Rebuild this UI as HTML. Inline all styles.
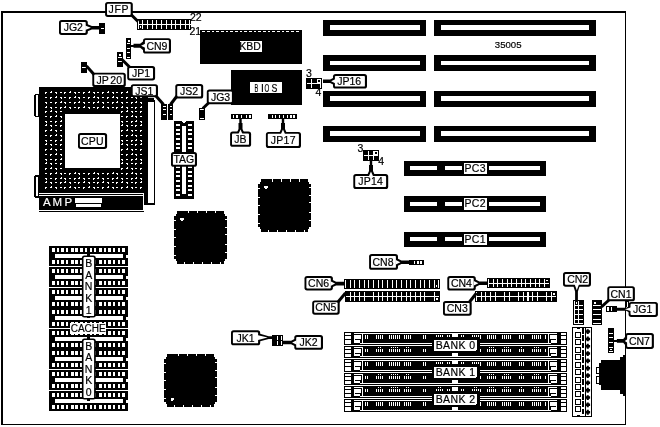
<!DOCTYPE html>
<html><head><meta charset="utf-8"><title>35005 motherboard layout</title>
<style>
html,body{margin:0;padding:0;background:#fff;}
svg{display:block;will-change:transform;font-family:"Liberation Sans",sans-serif;font-size:10.5px;text-anchor:middle;shape-rendering:crispEdges;}
.g{shape-rendering:geometricPrecision;}
text{stroke:#000;stroke-width:.18px;}
text[fill="#fff"]{stroke:#fff;}
</style></head><body>
<svg width="660" height="427" viewBox="0 0 660 427">
<rect width="660" height="427" fill="#fff"/>
<path fill="#000" d="M1 11h625v2h-625zM1 11h2v414h-2zM625 11h1v414h-1zM1 424h625v1h-625zM323 20h103v16h-103z"/>
<path fill="#fff" d="M330 25h90v5h-90z"/>
<path fill="#000" d="M434 20h162v16h-162z"/>
<path fill="#fff" d="M441 25h148v5h-148z"/>
<path fill="#000" d="M323 55h103v16h-103z"/>
<path fill="#fff" d="M330 61h90v4h-90z"/>
<path fill="#000" d="M434 55h162v16h-162z"/>
<path fill="#fff" d="M441 61h148v4h-148z"/>
<path fill="#000" d="M323 91h103v16h-103z"/>
<path fill="#fff" d="M330 96h90v5h-90z"/>
<path fill="#000" d="M434 91h162v16h-162z"/>
<path fill="#fff" d="M441 96h148v5h-148z"/>
<path fill="#000" d="M323 126h103v16h-103z"/>
<path fill="#fff" d="M330 131h90v5h-90z"/>
<path fill="#000" d="M434 126h162v16h-162z"/>
<path fill="#fff" d="M441 131h148v5h-148z"/>
<path fill="#000" d="M404 161h142v15h-142z"/>
<path fill="#fff" d="M410 166h27v4h-27zM445 166h17v4h-17zM489 166h51v4h-51zM464 163h23v11h-23z"/>
<text x="475.2" y="172.1" letter-spacing="0.3" >PC3</text>
<path fill="#000" d="M404 196h142v16h-142z"/>
<path fill="#fff" d="M410 202h27v4h-27zM445 202h17v4h-17zM489 202h51v4h-51zM464 198h23v12h-23z"/>
<text x="475.2" y="207.1" letter-spacing="0.3" >PC2</text>
<path fill="#000" d="M404 232h142v15h-142z"/>
<path fill="#fff" d="M410 237h27v4h-27zM445 237h17v4h-17zM489 237h51v4h-51zM464 234h23v11h-23z"/>
<text x="475.2" y="243.1" letter-spacing="0.3" >PC1</text>
<path fill="#000" d="M200 30h102v34h-102z"/>
<path fill="#fff" d="M202.3 31h2.8v1h-2.8zM206.97 31h2.8v1h-2.8zM211.64 31h2.8v1h-2.8zM216.31 31h2.8v1h-2.8zM220.98 31h2.8v1h-2.8zM225.65 31h2.8v1h-2.8zM230.32 31h2.8v1h-2.8zM234.99 31h2.8v1h-2.8zM239.66 31h2.8v1h-2.8zM244.33 31h2.8v1h-2.8zM249 31h2.8v1h-2.8zM253.67 31h2.8v1h-2.8zM258.34 31h2.8v1h-2.8zM263.01 31h2.8v1h-2.8zM267.68 31h2.8v1h-2.8zM272.35 31h2.8v1h-2.8zM277.02 31h2.8v1h-2.8zM281.69 31h2.8v1h-2.8zM286.36 31h2.8v1h-2.8zM291.03 31h2.8v1h-2.8zM295.7 31h2.8v1h-2.8zM240 41h22v11h-22z"/>
<text x="250.1" y="50" >KBD</text>
<path fill="#000" d="M231 70h71v34.5h-71z"/>
<path fill="#fff" d="M250 82h32.2v10.9h-32.2z"/>
<text transform="translate(256.3,91.6) scale(0.55,1)" font-size="10.3">B</text>
<text transform="translate(262.5,91.6) scale(1,1)" font-size="10.3">I</text>
<text transform="translate(266.9,91.6) scale(0.6,1)" font-size="10.3">O</text>
<text transform="translate(274.5,91.6) scale(0.85,1)" font-size="10.3">S</text>
<path fill="#000" d="M261 179h47v3h-47zM260 182h49v2h-49zM258 184h53v43h-53zM260 227h49v2h-49zM261 229h47v3h-47z"/>
<path fill="#fff" d="M272 179h1v3h-1zM281 179h1v3h-1zM290 179h1v3h-1zM299 179h1v3h-1zM267.5 230h1v2h-1zM276.7 230h1v2h-1zM286 230h1v2h-1zM295 230h1v2h-1zM304 230h1v2h-1zM258 188h2v1h-2zM258 196.7h2v1h-2zM258 205.4h2v1h-2zM258 214.1h2v1h-2zM258 222.8h2v1h-2zM309 187h2v1h-2zM309 194.5h2v1h-2zM309 202h2v1h-2zM309 211.5h2v1h-2zM309 219.7h2v1h-2zM264 186h4v2h-4zM265 188h2v1h-2z"/>
<path fill="#000" d="M177 211h47v3h-47zM176 214h49v2h-49zM174 216h53v43h-53zM176 259h49v2h-49zM177 261h47v3h-47z"/>
<path fill="#fff" d="M188 211h1v2h-1zM197 211h1v2h-1zM206 211h1v2h-1zM215 211h1v2h-1zM183.5 262h1v2h-1zM192.7 262h1v2h-1zM202 262h1v2h-1zM211 262h1v2h-1zM220 262h1v2h-1zM174 220h2v1h-2zM174 228.7h2v1h-2zM174 237.4h2v1h-2zM174 246.1h2v1h-2zM174 254.8h2v1h-2zM225 219h2v1h-2zM225 226.5h2v1h-2zM225 234h2v1h-2zM225 243.5h2v1h-2zM225 251.7h2v1h-2zM180 218h4v2h-4zM181 220h2v1h-2z"/>
<path fill="#000" d="M167 354h47v3h-47zM166 357h49v2h-49zM164 359h53v43h-53zM166 402h49v2h-49zM167 404h47v3h-47z"/>
<path fill="#fff" d="M178 354h1v2h-1zM187 354h1v2h-1zM196 354h1v2h-1zM205 354h1v2h-1zM173.5 405h1v2h-1zM182.7 405h1v2h-1zM192 405h1v2h-1zM201 405h1v2h-1zM210 405h1v2h-1zM164 363h2v1h-2zM164 371.7h2v1h-2zM164 380.4h2v1h-2zM164 389.1h2v1h-2zM164 397.8h2v1h-2zM215 362h2v1h-2zM215 369.5h2v1h-2zM215 377h2v1h-2zM215 386.5h2v1h-2zM215 394.7h2v1h-2zM171 398h3v2h-3zM171 400h2v1h-2z"/>
<path fill="#000" d="M174 121h20v78h-20z"/>
<polygon points="181.7,121 186.3,121 184,123.6" fill="#fff" />
<path fill="#fff" d="M182 126h4v68h-4zM176.2 124h4v2h-4zM188 124h4v2h-4zM176.2 128.67h4v2h-4zM188 128.67h4v2h-4zM176.2 133.34h4v2h-4zM188 133.34h4v2h-4zM176.2 138.01h4v2h-4zM188 138.01h4v2h-4zM176.2 142.68h4v2h-4zM188 142.68h4v2h-4zM176.2 147.35h4v2h-4zM188 147.35h4v2h-4zM176.2 152.02h4v2h-4zM188 152.02h4v2h-4zM176.2 156.69h4v2h-4zM188 156.69h4v2h-4zM176.2 161.36h4v2h-4zM188 161.36h4v2h-4zM176.2 166.03h4v2h-4zM188 166.03h4v2h-4zM176.2 170.7h4v2h-4zM188 170.7h4v2h-4zM176.2 175.37h4v2h-4zM188 175.37h4v2h-4zM176.2 180.04h4v2h-4zM188 180.04h4v2h-4zM176.2 184.71h4v2h-4zM188 184.71h4v2h-4zM176.2 189.38h4v2h-4zM188 189.38h4v2h-4zM176.2 194.05h4v2h-4zM188 194.05h4v2h-4z"/>
<path fill="#000" d="M49 246h79v20h-79z"/>
<path fill="#fff" d="M52 248h2.8v4h-2.8zM52 260h2.8v4h-2.8zM56.69 248h2.2v4h-2.2zM56.69 260h2.2v4h-2.2zM61.38 248h2.8v4h-2.8zM61.38 260h2.8v4h-2.8zM66.07 248h2.2v4h-2.2zM66.07 260h2.2v4h-2.2zM70.76 248h2.8v4h-2.8zM70.76 260h2.8v4h-2.8zM75.45 248h2.2v4h-2.2zM75.45 260h2.2v4h-2.2zM80.14 248h2.8v4h-2.8zM80.14 260h2.8v4h-2.8zM84.83 248h2.2v4h-2.2zM84.83 260h2.2v4h-2.2zM89.52 248h2.8v4h-2.8zM89.52 260h2.8v4h-2.8zM94.21 248h2.2v4h-2.2zM94.21 260h2.2v4h-2.2zM98.9 248h2.8v4h-2.8zM98.9 260h2.8v4h-2.8zM103.59 248h2.2v4h-2.2zM103.59 260h2.2v4h-2.2zM108.28 248h2.8v4h-2.8zM108.28 260h2.8v4h-2.8zM112.97 248h2.2v4h-2.2zM112.97 260h2.2v4h-2.2zM117.66 248h2.8v4h-2.8zM117.66 260h2.8v4h-2.8zM122.35 248h2.2v4h-2.2zM122.35 260h2.2v4h-2.2zM55 254.2h67.8v3.6h-67.8zM126 255.3h2v2.3h-2z"/>
<path fill="#000" d="M87 254.2h3v1.8h-3zM49 267h79v20h-79z"/>
<path fill="#fff" d="M52 269h2.8v4h-2.8zM52 281h2.8v4h-2.8zM56.69 269h2.2v4h-2.2zM56.69 281h2.2v4h-2.2zM61.38 269h2.8v4h-2.8zM61.38 281h2.8v4h-2.8zM66.07 269h2.2v4h-2.2zM66.07 281h2.2v4h-2.2zM70.76 269h2.8v4h-2.8zM70.76 281h2.8v4h-2.8zM75.45 269h2.2v4h-2.2zM75.45 281h2.2v4h-2.2zM80.14 269h2.8v4h-2.8zM80.14 281h2.8v4h-2.8zM84.83 269h2.2v4h-2.2zM84.83 281h2.2v4h-2.2zM89.52 269h2.8v4h-2.8zM89.52 281h2.8v4h-2.8zM94.21 269h2.2v4h-2.2zM94.21 281h2.2v4h-2.2zM98.9 269h2.8v4h-2.8zM98.9 281h2.8v4h-2.8zM103.59 269h2.2v4h-2.2zM103.59 281h2.2v4h-2.2zM108.28 269h2.8v4h-2.8zM108.28 281h2.8v4h-2.8zM112.97 269h2.2v4h-2.2zM112.97 281h2.2v4h-2.2zM117.66 269h2.8v4h-2.8zM117.66 281h2.8v4h-2.8zM122.35 269h2.2v4h-2.2zM122.35 281h2.2v4h-2.2zM55 275.2h67.8v3.6h-67.8zM126 276.3h2v2.3h-2z"/>
<path fill="#000" d="M87 275.2h3v1.8h-3zM49 288h79v20h-79z"/>
<path fill="#fff" d="M52 290h2.8v4h-2.8zM52 302h2.8v4h-2.8zM56.69 290h2.2v4h-2.2zM56.69 302h2.2v4h-2.2zM61.38 290h2.8v4h-2.8zM61.38 302h2.8v4h-2.8zM66.07 290h2.2v4h-2.2zM66.07 302h2.2v4h-2.2zM70.76 290h2.8v4h-2.8zM70.76 302h2.8v4h-2.8zM75.45 290h2.2v4h-2.2zM75.45 302h2.2v4h-2.2zM80.14 290h2.8v4h-2.8zM80.14 302h2.8v4h-2.8zM84.83 290h2.2v4h-2.2zM84.83 302h2.2v4h-2.2zM89.52 290h2.8v4h-2.8zM89.52 302h2.8v4h-2.8zM94.21 290h2.2v4h-2.2zM94.21 302h2.2v4h-2.2zM98.9 290h2.8v4h-2.8zM98.9 302h2.8v4h-2.8zM103.59 290h2.2v4h-2.2zM103.59 302h2.2v4h-2.2zM108.28 290h2.8v4h-2.8zM108.28 302h2.8v4h-2.8zM112.97 290h2.2v4h-2.2zM112.97 302h2.2v4h-2.2zM117.66 290h2.8v4h-2.8zM117.66 302h2.8v4h-2.8zM122.35 290h2.2v4h-2.2zM122.35 302h2.2v4h-2.2zM55 296.2h67.8v3.6h-67.8zM126 297.3h2v2.3h-2z"/>
<path fill="#000" d="M87 296.2h3v1.8h-3zM49 308h79v20h-79z"/>
<path fill="#fff" d="M52 310h2.8v4h-2.8zM52 322h2.8v4h-2.8zM56.69 310h2.2v4h-2.2zM56.69 322h2.2v4h-2.2zM61.38 310h2.8v4h-2.8zM61.38 322h2.8v4h-2.8zM66.07 310h2.2v4h-2.2zM66.07 322h2.2v4h-2.2zM70.76 310h2.8v4h-2.8zM70.76 322h2.8v4h-2.8zM75.45 310h2.2v4h-2.2zM75.45 322h2.2v4h-2.2zM80.14 310h2.8v4h-2.8zM80.14 322h2.8v4h-2.8zM84.83 310h2.2v4h-2.2zM84.83 322h2.2v4h-2.2zM89.52 310h2.8v4h-2.8zM89.52 322h2.8v4h-2.8zM94.21 310h2.2v4h-2.2zM94.21 322h2.2v4h-2.2zM98.9 310h2.8v4h-2.8zM98.9 322h2.8v4h-2.8zM103.59 310h2.2v4h-2.2zM103.59 322h2.2v4h-2.2zM108.28 310h2.8v4h-2.8zM108.28 322h2.8v4h-2.8zM112.97 310h2.2v4h-2.2zM112.97 322h2.2v4h-2.2zM117.66 310h2.8v4h-2.8zM117.66 322h2.8v4h-2.8zM122.35 310h2.2v4h-2.2zM122.35 322h2.2v4h-2.2zM55 316.2h67.8v3.6h-67.8zM126 317.3h2v2.3h-2z"/>
<path fill="#000" d="M87 316.2h3v1.8h-3zM49 329h79v20h-79z"/>
<path fill="#fff" d="M52 331h2.8v4h-2.8zM52 343h2.8v4h-2.8zM56.69 331h2.2v4h-2.2zM56.69 343h2.2v4h-2.2zM61.38 331h2.8v4h-2.8zM61.38 343h2.8v4h-2.8zM66.07 331h2.2v4h-2.2zM66.07 343h2.2v4h-2.2zM70.76 331h2.8v4h-2.8zM70.76 343h2.8v4h-2.8zM75.45 331h2.2v4h-2.2zM75.45 343h2.2v4h-2.2zM80.14 331h2.8v4h-2.8zM80.14 343h2.8v4h-2.8zM84.83 331h2.2v4h-2.2zM84.83 343h2.2v4h-2.2zM89.52 331h2.8v4h-2.8zM89.52 343h2.8v4h-2.8zM94.21 331h2.2v4h-2.2zM94.21 343h2.2v4h-2.2zM98.9 331h2.8v4h-2.8zM98.9 343h2.8v4h-2.8zM103.59 331h2.2v4h-2.2zM103.59 343h2.2v4h-2.2zM108.28 331h2.8v4h-2.8zM108.28 343h2.8v4h-2.8zM112.97 331h2.2v4h-2.2zM112.97 343h2.2v4h-2.2zM117.66 331h2.8v4h-2.8zM117.66 343h2.8v4h-2.8zM122.35 331h2.2v4h-2.2zM122.35 343h2.2v4h-2.2zM55 337.2h67.8v3.6h-67.8zM126 338.3h2v2.3h-2z"/>
<path fill="#000" d="M87 337.2h3v1.8h-3zM49 349h79v20h-79z"/>
<path fill="#fff" d="M52 351h2.8v4h-2.8zM52 363h2.8v4h-2.8zM56.69 351h2.2v4h-2.2zM56.69 363h2.2v4h-2.2zM61.38 351h2.8v4h-2.8zM61.38 363h2.8v4h-2.8zM66.07 351h2.2v4h-2.2zM66.07 363h2.2v4h-2.2zM70.76 351h2.8v4h-2.8zM70.76 363h2.8v4h-2.8zM75.45 351h2.2v4h-2.2zM75.45 363h2.2v4h-2.2zM80.14 351h2.8v4h-2.8zM80.14 363h2.8v4h-2.8zM84.83 351h2.2v4h-2.2zM84.83 363h2.2v4h-2.2zM89.52 351h2.8v4h-2.8zM89.52 363h2.8v4h-2.8zM94.21 351h2.2v4h-2.2zM94.21 363h2.2v4h-2.2zM98.9 351h2.8v4h-2.8zM98.9 363h2.8v4h-2.8zM103.59 351h2.2v4h-2.2zM103.59 363h2.2v4h-2.2zM108.28 351h2.8v4h-2.8zM108.28 363h2.8v4h-2.8zM112.97 351h2.2v4h-2.2zM112.97 363h2.2v4h-2.2zM117.66 351h2.8v4h-2.8zM117.66 363h2.8v4h-2.8zM122.35 351h2.2v4h-2.2zM122.35 363h2.2v4h-2.2zM55 357.2h67.8v3.6h-67.8zM126 358.3h2v2.3h-2z"/>
<path fill="#000" d="M87 357.2h3v1.8h-3zM49 370h79v20h-79z"/>
<path fill="#fff" d="M52 372h2.8v4h-2.8zM52 384h2.8v4h-2.8zM56.69 372h2.2v4h-2.2zM56.69 384h2.2v4h-2.2zM61.38 372h2.8v4h-2.8zM61.38 384h2.8v4h-2.8zM66.07 372h2.2v4h-2.2zM66.07 384h2.2v4h-2.2zM70.76 372h2.8v4h-2.8zM70.76 384h2.8v4h-2.8zM75.45 372h2.2v4h-2.2zM75.45 384h2.2v4h-2.2zM80.14 372h2.8v4h-2.8zM80.14 384h2.8v4h-2.8zM84.83 372h2.2v4h-2.2zM84.83 384h2.2v4h-2.2zM89.52 372h2.8v4h-2.8zM89.52 384h2.8v4h-2.8zM94.21 372h2.2v4h-2.2zM94.21 384h2.2v4h-2.2zM98.9 372h2.8v4h-2.8zM98.9 384h2.8v4h-2.8zM103.59 372h2.2v4h-2.2zM103.59 384h2.2v4h-2.2zM108.28 372h2.8v4h-2.8zM108.28 384h2.8v4h-2.8zM112.97 372h2.2v4h-2.2zM112.97 384h2.2v4h-2.2zM117.66 372h2.8v4h-2.8zM117.66 384h2.8v4h-2.8zM122.35 372h2.2v4h-2.2zM122.35 384h2.2v4h-2.2zM55 378.2h67.8v3.6h-67.8zM126 379.3h2v2.3h-2z"/>
<path fill="#000" d="M87 378.2h3v1.8h-3zM49 391h79v19.6h-79z"/>
<path fill="#fff" d="M52 393h2.8v4h-2.8zM52 405h2.8v4h-2.8zM56.69 393h2.2v4h-2.2zM56.69 405h2.2v4h-2.2zM61.38 393h2.8v4h-2.8zM61.38 405h2.8v4h-2.8zM66.07 393h2.2v4h-2.2zM66.07 405h2.2v4h-2.2zM70.76 393h2.8v4h-2.8zM70.76 405h2.8v4h-2.8zM75.45 393h2.2v4h-2.2zM75.45 405h2.2v4h-2.2zM80.14 393h2.8v4h-2.8zM80.14 405h2.8v4h-2.8zM84.83 393h2.2v4h-2.2zM84.83 405h2.2v4h-2.2zM89.52 393h2.8v4h-2.8zM89.52 405h2.8v4h-2.8zM94.21 393h2.2v4h-2.2zM94.21 405h2.2v4h-2.2zM98.9 393h2.8v4h-2.8zM98.9 405h2.8v4h-2.8zM103.59 393h2.2v4h-2.2zM103.59 405h2.2v4h-2.2zM108.28 393h2.8v4h-2.8zM108.28 405h2.8v4h-2.8zM112.97 393h2.2v4h-2.2zM112.97 405h2.2v4h-2.2zM117.66 393h2.8v4h-2.8zM117.66 405h2.8v4h-2.8zM122.35 393h2.2v4h-2.2zM122.35 405h2.2v4h-2.2zM55 399.2h67.8v3.6h-67.8zM126 400.3h2v2.3h-2z"/>
<path fill="#000" d="M87 399.2h3v1.8h-3zM39 87h109v106h-109z"/>
<path fill="#fff" d="M45 92h2v1h-2zM45 93h1v1h-1zM50 92h2v1h-2zM51 91h1v1h-1zM55 92h2v1h-2zM56 93h1v1h-1zM60 92h2v1h-2zM64 92h2v1h-2zM64 93h1v1h-1zM69 92h2v1h-2zM70 91h1v1h-1zM74 92h2v1h-2zM75 93h1v1h-1zM78 92h2v1h-2zM83 92h2v1h-2zM83 93h1v1h-1zM88 92h2v1h-2zM89 91h1v1h-1zM93 92h2v1h-2zM94 93h1v1h-1zM97 92h2v1h-2zM102 92h2v1h-2zM102 93h1v1h-1zM107 92h2v1h-2zM108 91h1v1h-1zM112 92h2v1h-2zM113 93h1v1h-1zM116 92h2v1h-2zM121 92h2v1h-2zM121 93h1v1h-1zM126 92h2v1h-2zM127 91h1v1h-1zM131 92h2v1h-2zM132 93h1v1h-1zM135 92h2v1h-2zM140 92h2v1h-2zM140 93h1v1h-1zM45 97h2v1h-2zM50 97h2v1h-2zM50 98h1v1h-1zM55 97h2v1h-2zM56 96h1v1h-1zM60 97h2v1h-2zM61 98h1v1h-1zM64 97h2v1h-2zM69 97h2v1h-2zM69 98h1v1h-1zM74 97h2v1h-2zM75 96h1v1h-1zM78 97h2v1h-2zM79 98h1v1h-1zM83 97h2v1h-2zM88 97h2v1h-2zM88 98h1v1h-1zM93 97h2v1h-2zM94 96h1v1h-1zM97 97h2v1h-2zM98 98h1v1h-1zM102 97h2v1h-2zM107 97h2v1h-2zM107 98h1v1h-1zM112 97h2v1h-2zM113 96h1v1h-1zM116 97h2v1h-2zM117 98h1v1h-1zM121 97h2v1h-2zM126 97h2v1h-2zM126 98h1v1h-1zM131 97h2v1h-2zM132 96h1v1h-1zM135 97h2v1h-2zM136 98h1v1h-1zM140 97h2v1h-2zM45 102h2v1h-2zM46 103h1v1h-1zM50 102h2v1h-2zM55 102h2v1h-2zM55 103h1v1h-1zM60 102h2v1h-2zM61 101h1v1h-1zM64 102h2v1h-2zM65 103h1v1h-1zM69 102h2v1h-2zM74 102h2v1h-2zM74 103h1v1h-1zM78 102h2v1h-2zM79 101h1v1h-1zM83 102h2v1h-2zM84 103h1v1h-1zM88 102h2v1h-2zM93 102h2v1h-2zM93 103h1v1h-1zM97 102h2v1h-2zM98 101h1v1h-1zM102 102h2v1h-2zM103 103h1v1h-1zM107 102h2v1h-2zM112 102h2v1h-2zM112 103h1v1h-1zM116 102h2v1h-2zM117 101h1v1h-1zM121 102h2v1h-2zM122 103h1v1h-1zM126 102h2v1h-2zM131 102h2v1h-2zM131 103h1v1h-1zM135 102h2v1h-2zM136 101h1v1h-1zM140 102h2v1h-2zM141 103h1v1h-1zM45 107h2v1h-2zM46 106h1v1h-1zM50 107h2v1h-2zM51 108h1v1h-1zM55 107h2v1h-2zM60 107h2v1h-2zM60 108h1v1h-1zM64 107h2v1h-2zM65 106h1v1h-1zM69 107h2v1h-2zM70 108h1v1h-1zM74 107h2v1h-2zM78 107h2v1h-2zM78 108h1v1h-1zM83 107h2v1h-2zM84 106h1v1h-1zM88 107h2v1h-2zM89 108h1v1h-1zM93 107h2v1h-2zM97 107h2v1h-2zM97 108h1v1h-1zM102 107h2v1h-2zM103 106h1v1h-1zM107 107h2v1h-2zM108 108h1v1h-1zM112 107h2v1h-2zM116 107h2v1h-2zM116 108h1v1h-1zM121 107h2v1h-2zM122 106h1v1h-1zM126 107h2v1h-2zM127 108h1v1h-1zM131 107h2v1h-2zM135 107h2v1h-2zM135 108h1v1h-1zM140 107h2v1h-2zM141 106h1v1h-1zM45 111h2v1h-2zM45 112h1v1h-1zM50 111h2v1h-2zM51 110h1v1h-1zM55 111h2v1h-2zM56 112h1v1h-1zM60 111h2v1h-2zM121 111h2v1h-2zM121 112h1v1h-1zM126 111h2v1h-2zM127 110h1v1h-1zM131 111h2v1h-2zM132 112h1v1h-1zM135 111h2v1h-2zM140 111h2v1h-2zM140 112h1v1h-1zM45 116h2v1h-2zM50 116h2v1h-2zM50 117h1v1h-1zM55 116h2v1h-2zM56 115h1v1h-1zM60 116h2v1h-2zM61 117h1v1h-1zM121 116h2v1h-2zM126 116h2v1h-2zM126 117h1v1h-1zM131 116h2v1h-2zM132 115h1v1h-1zM135 116h2v1h-2zM136 117h1v1h-1zM140 116h2v1h-2zM45 121h2v1h-2zM46 122h1v1h-1zM50 121h2v1h-2zM55 121h2v1h-2zM55 122h1v1h-1zM60 121h2v1h-2zM61 120h1v1h-1zM121 121h2v1h-2zM122 122h1v1h-1zM126 121h2v1h-2zM131 121h2v1h-2zM131 122h1v1h-1zM135 121h2v1h-2zM136 120h1v1h-1zM140 121h2v1h-2zM141 122h1v1h-1zM45 125h2v1h-2zM46 124h1v1h-1zM50 125h2v1h-2zM51 126h1v1h-1zM55 125h2v1h-2zM60 125h2v1h-2zM60 126h1v1h-1zM121 125h2v1h-2zM122 124h1v1h-1zM126 125h2v1h-2zM127 126h1v1h-1zM131 125h2v1h-2zM135 125h2v1h-2zM135 126h1v1h-1zM140 125h2v1h-2zM141 124h1v1h-1zM45 130h2v1h-2zM45 131h1v1h-1zM50 130h2v1h-2zM51 129h1v1h-1zM55 130h2v1h-2zM56 131h1v1h-1zM60 130h2v1h-2zM121 130h2v1h-2zM121 131h1v1h-1zM126 130h2v1h-2zM127 129h1v1h-1zM131 130h2v1h-2zM132 131h1v1h-1zM135 130h2v1h-2zM140 130h2v1h-2zM140 131h1v1h-1zM45 135h2v1h-2zM50 135h2v1h-2zM50 136h1v1h-1zM55 135h2v1h-2zM56 134h1v1h-1zM60 135h2v1h-2zM61 136h1v1h-1zM121 135h2v1h-2zM126 135h2v1h-2zM126 136h1v1h-1zM131 135h2v1h-2zM132 134h1v1h-1zM135 135h2v1h-2zM136 136h1v1h-1zM140 135h2v1h-2zM45 140h2v1h-2zM46 141h1v1h-1zM50 140h2v1h-2zM55 140h2v1h-2zM55 141h1v1h-1zM60 140h2v1h-2zM61 139h1v1h-1zM121 140h2v1h-2zM122 141h1v1h-1zM126 140h2v1h-2zM131 140h2v1h-2zM131 141h1v1h-1zM135 140h2v1h-2zM136 139h1v1h-1zM140 140h2v1h-2zM141 141h1v1h-1zM45 144h2v1h-2zM46 143h1v1h-1zM50 144h2v1h-2zM51 145h1v1h-1zM55 144h2v1h-2zM60 144h2v1h-2zM60 145h1v1h-1zM121 144h2v1h-2zM122 143h1v1h-1zM126 144h2v1h-2zM127 145h1v1h-1zM131 144h2v1h-2zM135 144h2v1h-2zM135 145h1v1h-1zM140 144h2v1h-2zM141 143h1v1h-1zM45 149h2v1h-2zM45 150h1v1h-1zM50 149h2v1h-2zM51 148h1v1h-1zM55 149h2v1h-2zM56 150h1v1h-1zM60 149h2v1h-2zM121 149h2v1h-2zM121 150h1v1h-1zM126 149h2v1h-2zM127 148h1v1h-1zM131 149h2v1h-2zM132 150h1v1h-1zM135 149h2v1h-2zM140 149h2v1h-2zM140 150h1v1h-1zM45 154h2v1h-2zM50 154h2v1h-2zM50 155h1v1h-1zM55 154h2v1h-2zM56 153h1v1h-1zM60 154h2v1h-2zM61 155h1v1h-1zM121 154h2v1h-2zM126 154h2v1h-2zM126 155h1v1h-1zM131 154h2v1h-2zM132 153h1v1h-1zM135 154h2v1h-2zM136 155h1v1h-1zM140 154h2v1h-2zM45 159h2v1h-2zM46 160h1v1h-1zM50 159h2v1h-2zM55 159h2v1h-2zM55 160h1v1h-1zM60 159h2v1h-2zM61 158h1v1h-1zM121 159h2v1h-2zM122 160h1v1h-1zM126 159h2v1h-2zM131 159h2v1h-2zM131 160h1v1h-1zM135 159h2v1h-2zM136 158h1v1h-1zM140 159h2v1h-2zM141 160h1v1h-1zM45 163h2v1h-2zM46 162h1v1h-1zM50 163h2v1h-2zM51 164h1v1h-1zM55 163h2v1h-2zM60 163h2v1h-2zM60 164h1v1h-1zM121 163h2v1h-2zM122 162h1v1h-1zM126 163h2v1h-2zM127 164h1v1h-1zM131 163h2v1h-2zM135 163h2v1h-2zM135 164h1v1h-1zM140 163h2v1h-2zM141 162h1v1h-1zM45 168h2v1h-2zM45 169h1v1h-1zM50 168h2v1h-2zM51 167h1v1h-1zM55 168h2v1h-2zM56 169h1v1h-1zM60 168h2v1h-2zM121 168h2v1h-2zM121 169h1v1h-1zM126 168h2v1h-2zM127 167h1v1h-1zM131 168h2v1h-2zM132 169h1v1h-1zM135 168h2v1h-2zM140 168h2v1h-2zM140 169h1v1h-1zM45 173h2v1h-2zM50 173h2v1h-2zM50 174h1v1h-1zM55 173h2v1h-2zM56 172h1v1h-1zM60 173h2v1h-2zM61 174h1v1h-1zM64 173h2v1h-2zM69 173h2v1h-2zM69 174h1v1h-1zM74 173h2v1h-2zM75 172h1v1h-1zM78 173h2v1h-2zM79 174h1v1h-1zM83 173h2v1h-2zM88 173h2v1h-2zM88 174h1v1h-1zM93 173h2v1h-2zM94 172h1v1h-1zM97 173h2v1h-2zM98 174h1v1h-1zM102 173h2v1h-2zM107 173h2v1h-2zM107 174h1v1h-1zM112 173h2v1h-2zM113 172h1v1h-1zM116 173h2v1h-2zM117 174h1v1h-1zM121 173h2v1h-2zM126 173h2v1h-2zM126 174h1v1h-1zM131 173h2v1h-2zM132 172h1v1h-1zM135 173h2v1h-2zM136 174h1v1h-1zM140 173h2v1h-2zM45 178h2v1h-2zM46 179h1v1h-1zM50 178h2v1h-2zM55 178h2v1h-2zM55 179h1v1h-1zM60 178h2v1h-2zM61 177h1v1h-1zM64 178h2v1h-2zM65 179h1v1h-1zM69 178h2v1h-2zM74 178h2v1h-2zM74 179h1v1h-1zM78 178h2v1h-2zM79 177h1v1h-1zM83 178h2v1h-2zM84 179h1v1h-1zM88 178h2v1h-2zM93 178h2v1h-2zM93 179h1v1h-1zM97 178h2v1h-2zM98 177h1v1h-1zM102 178h2v1h-2zM103 179h1v1h-1zM107 178h2v1h-2zM112 178h2v1h-2zM112 179h1v1h-1zM116 178h2v1h-2zM117 177h1v1h-1zM121 178h2v1h-2zM122 179h1v1h-1zM126 178h2v1h-2zM131 178h2v1h-2zM131 179h1v1h-1zM135 178h2v1h-2zM136 177h1v1h-1zM140 178h2v1h-2zM141 179h1v1h-1zM45 182h2v1h-2zM46 181h1v1h-1zM50 182h2v1h-2zM51 183h1v1h-1zM55 182h2v1h-2zM60 182h2v1h-2zM60 183h1v1h-1zM64 182h2v1h-2zM65 181h1v1h-1zM69 182h2v1h-2zM70 183h1v1h-1zM74 182h2v1h-2zM78 182h2v1h-2zM78 183h1v1h-1zM83 182h2v1h-2zM84 181h1v1h-1zM88 182h2v1h-2zM89 183h1v1h-1zM93 182h2v1h-2zM97 182h2v1h-2zM97 183h1v1h-1zM102 182h2v1h-2zM103 181h1v1h-1zM107 182h2v1h-2zM108 183h1v1h-1zM112 182h2v1h-2zM116 182h2v1h-2zM116 183h1v1h-1zM121 182h2v1h-2zM122 181h1v1h-1zM126 182h2v1h-2zM127 183h1v1h-1zM131 182h2v1h-2zM135 182h2v1h-2zM135 183h1v1h-1zM140 182h2v1h-2zM141 181h1v1h-1zM45 187h2v1h-2zM45 188h1v1h-1zM50 187h2v1h-2zM51 186h1v1h-1zM55 187h2v1h-2zM56 188h1v1h-1zM60 187h2v1h-2zM64 187h2v1h-2zM64 188h1v1h-1zM69 187h2v1h-2zM70 186h1v1h-1zM74 187h2v1h-2zM75 188h1v1h-1zM78 187h2v1h-2zM83 187h2v1h-2zM83 188h1v1h-1zM88 187h2v1h-2zM89 186h1v1h-1zM93 187h2v1h-2zM94 188h1v1h-1zM97 187h2v1h-2zM102 187h2v1h-2zM102 188h1v1h-1zM107 187h2v1h-2zM108 186h1v1h-1zM112 187h2v1h-2zM113 188h1v1h-1zM116 187h2v1h-2zM121 187h2v1h-2zM121 188h1v1h-1zM126 187h2v1h-2zM127 186h1v1h-1zM131 187h2v1h-2zM132 188h1v1h-1zM135 187h2v1h-2zM140 187h2v1h-2zM140 188h1v1h-1zM65 114h55v54h-55z"/>
<path fill="#000" d="M144 193h4v12h-4zM148 98h7v107h-7z"/>
<path fill="#fff" d="M148 102h6v101h-6zM154 98h1v1.5h-1z"/>
<path fill="#000" d="M34 94h5v23h-5z"/>
<path fill="#fff" d="M36 95.2h2v20.6h-2zM34 94h1v1h-1zM34 116h1v1h-1z"/>
<path fill="#000" d="M34 175.4h5v22.2h-5z"/>
<path fill="#fff" d="M36 176.6h2v19.8h-2zM34 175.4h1v1h-1zM34 196.6h1v1h-1z"/>
<path fill="#000" d="M39 194h104v1h-104zM39 196h104v14h-104zM39 211h105v1h-105z"/>
<text x="43" y="206.3" font-size="11.5" text-anchor="start" fill="#fff" >A</text>
<text x="52.5" y="206.3" font-size="11.5" text-anchor="start" fill="#fff" >M</text>
<text x="64.5" y="206.3" font-size="11.5" text-anchor="start" fill="#fff" >P</text>
<path fill="#fff" d="M75 197.5h27v5h-27zM76 204h25v3h-25z"/>
<path fill="#000" d="M137 19.3h54.4v10.6h-54.4z"/>
<path fill="#fff" d="M138 20.2h1.1v8.6h-1.1zM142.2 20.2h1v8.6h-1zM146.92 20.2h1v8.6h-1zM151.64 20.2h1v8.6h-1zM156.36 20.2h1v8.6h-1zM161.08 20.2h1v8.6h-1zM165.8 20.2h1v8.6h-1zM170.52 20.2h1v8.6h-1zM175.24 20.2h1v8.6h-1zM179.96 20.2h1v8.6h-1zM184.68 20.2h1v8.6h-1zM189.4 20.2h1v8.6h-1zM138 24.2h52.6v1h-52.6zM139.8 26h1.4v2h-1.4z"/>
<text x="190" y="20.8" text-anchor="start" >22</text>
<text x="189.5" y="35.2" text-anchor="start" >21</text>
<path fill="#000" d="M99 23h6v10.5h-6z"/>
<path fill="#fff" d="M101 27.6h3v1h-3z"/>
<path fill="#000" d="M126 38.2h5v20.9h-5z"/>
<path fill="#fff" d="M127.6 39.7h2v2.3h-2zM127.3 43.1h2.9v1h-2.9zM127.3 47.9h2.9v1h-2.9zM127.3 52h2.9v1h-2.9zM127.3 56.5h2.9v1h-2.9z"/>
<path fill="#000" d="M117 52h6v14.6h-6z"/>
<path fill="#fff" d="M119 54h2v2h-2zM118.4 57h3.6v1h-3.6zM118.4 61h3.6v1h-3.6z"/>
<path fill="#000" d="M81 62h6v11h-6z"/>
<path fill="#fff" d="M82 67h4v1h-4z"/>
<path fill="#000" d="M161 104h6v16h-6zM168 104h5.3v16h-5.3z"/>
<path fill="#fff" d="M162.5 106h3.5v1h-3.5zM169.5 106h2.5v1h-2.5zM162.5 109.2h3.5v1h-3.5zM169.5 109.2h2.5v1h-2.5zM162.5 114.2h3.5v1h-3.5zM169.5 114.2h2.5v1h-2.5z"/>
<path fill="#000" d="M199.2 107.7h5.8v12.1h-5.8z"/>
<path fill="#fff" d="M200.4 109h3.6v1.1h-3.6zM200.4 117.6h3.6v1.1h-3.6z"/>
<path fill="#000" d="M231 114h21v4.7h-21z"/>
<path fill="#fff" d="M232.5 115.2h1.6v2.3h-1.6zM236 115.2h1.6v2.3h-1.6zM240.8 115.2h1.6v2.3h-1.6zM245.5 115.2h1.6v2.3h-1.6zM249.3 115.2h1.6v2.3h-1.6z"/>
<path fill="#000" d="M268 114h29v4.7h-29z"/>
<path fill="#fff" d="M271.6 115.2h1.4v2.3h-1.4zM275 115.2h1.4v2.3h-1.4zM278.8 115.2h1.4v2.3h-1.4zM283 115.2h1.4v2.3h-1.4zM286.6 115.2h1.4v2.3h-1.4zM290.3 115.2h1.4v2.3h-1.4zM293.3 115.2h1.4v2.3h-1.4z"/>
<path fill="#000" d="M306 78h16v10.6h-16z"/>
<path fill="#fff" d="M310.5 79h1v8.6h-1zM307 83h13v1h-13zM317 79h4v4h-4z"/>
<path fill="#000" d="M318.2 80h1.3v1.5h-1.3z"/>
<path fill="#fff" d="M320 79h1v8.6h-1z"/>
<text x="306" y="76.8" text-anchor="start" >3</text>
<text x="315.5" y="96" text-anchor="start" >4</text>
<path fill="#000" d="M363 150h16v10.8h-16z"/>
<path fill="#fff" d="M368.2 151h1v8.6h-1zM373.4 151h1v8.6h-1zM364 155h14v1h-14zM374.4 151h3.6v4h-3.6z"/>
<path fill="#000" d="M375.2 152h1.4v1.8h-1.4z"/>
<text x="357.5" y="152.3" text-anchor="start" >3</text>
<text x="378.3" y="164.6" text-anchor="start" >4</text>
<path fill="#000" d="M409 260h15v4.7h-15z"/>
<path fill="#fff" d="M414.1 261.2h1.3v2.3h-1.3zM417.3 261.2h1.4v2.3h-1.4zM420.1 261.2h2.2v2.3h-2.2z"/>
<path fill="#000" d="M344 279h96v10h-96z"/>
<path fill="#fff" d="M345 280h1v8h-1zM350 280h1v8h-1zM354 280h1v8h-1zM359 280h1v8h-1zM364 280h1v8h-1zM368 280h1v8h-1zM373 280h1v8h-1zM378 280h1v8h-1zM382 280h1v8h-1zM387 280h1v8h-1zM392 280h1v8h-1zM396 280h1v8h-1zM401 280h1v8h-1zM406 280h1v8h-1zM410 280h1v8h-1zM415 280h1v8h-1zM420 280h1v8h-1zM424 280h1v8h-1zM429 280h1v8h-1zM434 280h1v8h-1zM438 280h1v8h-1zM436 285h1v2h-1z"/>
<path fill="#000" d="M345 291h95v11h-95z"/>
<path fill="#fff" d="M346 296h93v1h-93zM350 292h1v9h-1zM354 292h1v9h-1zM359 292h1v9h-1zM364 292h1v9h-1zM373 292h1v9h-1zM378 292h1v9h-1zM382 292h1v9h-1zM387 292h1v9h-1zM392 292h1v9h-1zM396 292h1v9h-1zM401 292h1v9h-1zM406 292h1v9h-1zM410 292h1v9h-1zM415 292h1v9h-1zM420 292h1v9h-1zM424 292h1v9h-1zM434 292h1v9h-1zM436 298h2v2h-2z"/>
<path fill="#000" d="M487 278h63v10h-63z"/>
<path fill="#fff" d="M488 283h61v1h-61zM488 279h1v8h-1zM493 279h1v8h-1zM497 279h1v8h-1zM502 279h1v8h-1zM507 279h1v8h-1zM511 279h1v8h-1zM516 279h1v8h-1zM521 279h1v8h-1zM525 279h1v8h-1zM530 279h1v8h-1zM535 279h1v8h-1zM539 279h1v8h-1zM544 279h1v8h-1zM546 280h2v1h-2z"/>
<path fill="#000" d="M475 291h82v11h-82z"/>
<path fill="#fff" d="M476 296h80v1h-80zM476 292h1v9h-1zM481 292h1v9h-1zM485 292h1v9h-1zM490 292h1v9h-1zM495 292h1v9h-1zM504 292h1v9h-1zM509 292h1v9h-1zM518 292h1v9h-1zM523 292h1v9h-1zM527 292h2v9h-2zM532 292h1v9h-1zM537 292h1v9h-1zM546 292h1v9h-1zM551 292h1v9h-1zM553 293h2v2h-2z"/>
<path fill="#000" d="M573 300h11v25h-11z"/>
<path fill="#fff" d="M574.1 301h0.8v23.2h-0.8zM577.7 301h1.1v23.2h-1.1zM574.1 305h9.1v1h-9.1zM574.1 309.1h9.1v1h-9.1zM574.1 314.1h9.1v1h-9.1zM574.1 319.1h9.1v1h-9.1zM574.1 323.2h9.1v1h-9.1zM575.5 301.8h1.5v2.2h-1.5z"/>
<path fill="#000" d="M592.1 300h10v25h-10z"/>
<path fill="#fff" d="M593.6 301.5h2.4v2.5h-2.4zM593.2 305h7.8v1h-7.8zM593.2 309.1h7.8v1h-7.8zM593.2 314.1h7.8v1h-7.8zM593.2 319.1h7.8v1h-7.8zM593.2 323.2h7.8v1h-7.8z"/>
<path fill="#000" d="M606.4 306h10.4v5.8h-10.4z"/>
<path fill="#fff" d="M607.3 306.9h1.7v4.1h-1.7zM610.5 306.9h1.8v4.1h-1.8z"/>
<path fill="#000" d="M608 327.8h6v25.1h-6z"/>
<path fill="#fff" d="M608.9 333h4.2v1h-4.2zM608.9 336.8h4.2v1h-4.2zM608.9 341.9h4.2v1h-4.2zM608.9 347h4.2v0.9h-4.2zM610 349.2h2v0.8h-2zM608.9 351.1h4.2v0.9h-4.2z"/>
<path fill="#000" d="M272.3 335.2h10.7v10.4h-10.7z"/>
<path fill="#fff" d="M276.6 336.4h1.2v3.9h-1.2zM276.6 341.4h1.2v3.4h-1.2zM280.5 336.4h1.2v3.9h-1.2zM280.5 341.4h1.2v3.4h-1.2z"/>
<path fill="#000" d="M344 332h223v13h-223z"/>
<path fill="#fff" d="M345 333h6v2h-6zM345 336h6v3h-6zM345 340h6v4h-6zM561 333h5v2h-5zM561 336h5v3h-5zM561 340h5v4h-5zM354 333h203v1h-203zM354 335h7v4h-7zM354 339h1v1h-1zM354 340h6v3h-6zM362 334h1v10h-1zM360 343h191v1h-191zM548 334h1v10h-1zM550 335h7v4h-7zM556 339h1v1h-1zM551 340h6v3h-6zM365 335h1v4h-1zM367 335h1v4h-1zM376 335h1v4h-1zM378 335h1v4h-1zM380 335h1v4h-1zM382 335h1v4h-1zM389 335h1v4h-1zM391 335h1v4h-1zM393 335h1v4h-1zM395 335h1v4h-1zM397 335h1v4h-1zM399 335h1v4h-1zM404 335h1v4h-1zM406 335h1v4h-1zM408 335h1v4h-1zM410 335h1v4h-1zM423 335h1v4h-1zM425 335h1v4h-1zM436 335h1v2h-1zM438 335h1v2h-1zM440 335h1v2h-1zM442 335h1v2h-1zM447 335h1v2h-1zM449 335h1v2h-1zM461 335h1v2h-1zM463 335h1v2h-1zM472 335h1v2h-1zM474 335h1v2h-1zM476 335h1v2h-1zM478 335h1v2h-1zM480 335h1v4h-1zM487 335h1v4h-1zM489 335h1v4h-1zM491 335h1v4h-1zM493 335h1v4h-1zM495 335h1v4h-1zM502 335h1v4h-1zM504 335h1v4h-1zM506 335h1v4h-1zM508 335h1v4h-1zM510 335h1v4h-1zM519 335h1v4h-1zM521 335h1v4h-1zM523 335h1v4h-1zM532 335h1v4h-1zM534 335h1v4h-1zM536 335h1v4h-1zM538 335h1v4h-1zM540 335h1v4h-1zM545 335h1v4h-1zM452 333h6v4h-6z"/>
<path fill="#000" d="M344 346h223v12h-223z"/>
<path fill="#fff" d="M345 347h6v2h-6zM345 350h6v3h-6zM345 354h6v3h-6zM561 347h5v2h-5zM561 350h5v3h-5zM561 354h5v3h-5zM354 347h9v1h-9zM548 347h9v1h-9zM354 349h7v4h-7zM354 353h1v1h-1zM354 354h6v2h-6zM362 348h1v9h-1zM360 356h191v1h-191zM548 348h1v9h-1zM550 349h7v4h-7zM556 353h1v1h-1zM551 354h6v2h-6zM365 349h1v3h-1zM367 349h1v3h-1zM376 349h1v3h-1zM378 349h1v3h-1zM378 347h1v1h-1zM380 349h1v3h-1zM380 347h1v1h-1zM382 349h1v3h-1zM389 349h1v3h-1zM391 349h1v3h-1zM391 347h1v1h-1zM393 349h1v3h-1zM393 347h1v1h-1zM395 349h1v3h-1zM395 347h1v1h-1zM397 349h1v3h-1zM397 347h1v1h-1zM399 349h1v3h-1zM404 349h1v3h-1zM406 349h1v3h-1zM406 347h1v1h-1zM408 349h1v3h-1zM408 347h1v1h-1zM410 349h1v3h-1zM423 349h1v3h-1zM425 349h1v3h-1zM436 349h1v2h-1zM438 349h1v2h-1zM438 347h1v1h-1zM440 349h1v2h-1zM440 347h1v1h-1zM442 349h1v2h-1zM447 349h1v2h-1zM449 349h1v2h-1zM461 349h1v2h-1zM463 349h1v2h-1zM472 349h1v2h-1zM474 349h1v2h-1zM474 347h1v1h-1zM476 349h1v2h-1zM476 347h1v1h-1zM478 349h1v2h-1zM480 349h1v3h-1zM487 349h1v3h-1zM489 349h1v3h-1zM489 347h1v1h-1zM491 349h1v3h-1zM491 347h1v1h-1zM493 349h1v3h-1zM493 347h1v1h-1zM495 349h1v3h-1zM502 349h1v3h-1zM504 349h1v3h-1zM504 347h1v1h-1zM506 349h1v3h-1zM506 347h1v1h-1zM508 349h1v3h-1zM508 347h1v1h-1zM510 349h1v3h-1zM519 349h1v3h-1zM521 349h1v3h-1zM521 347h1v1h-1zM523 349h1v3h-1zM532 349h1v3h-1zM534 349h1v3h-1zM534 347h1v1h-1zM536 349h1v3h-1zM536 347h1v1h-1zM538 349h1v3h-1zM538 347h1v1h-1zM540 349h1v3h-1zM545 349h1v3h-1zM452 353h6v4h-6z"/>
<path fill="#000" d="M344 359h223v13h-223z"/>
<path fill="#fff" d="M345 360h6v2h-6zM345 363h6v3h-6zM345 367h6v4h-6zM561 360h5v2h-5zM561 363h5v3h-5zM561 367h5v4h-5zM354 360h203v1h-203zM354 362h7v4h-7zM354 366h1v1h-1zM354 367h6v3h-6zM362 361h1v10h-1zM360 370h191v1h-191zM548 361h1v10h-1zM550 362h7v4h-7zM556 366h1v1h-1zM551 367h6v3h-6zM365 362h1v4h-1zM367 362h1v4h-1zM376 362h1v4h-1zM378 362h1v4h-1zM380 362h1v4h-1zM382 362h1v4h-1zM389 362h1v4h-1zM391 362h1v4h-1zM393 362h1v4h-1zM395 362h1v4h-1zM397 362h1v4h-1zM399 362h1v4h-1zM404 362h1v4h-1zM406 362h1v4h-1zM408 362h1v4h-1zM410 362h1v4h-1zM423 362h1v4h-1zM425 362h1v4h-1zM436 362h1v2h-1zM438 362h1v2h-1zM440 362h1v2h-1zM442 362h1v2h-1zM447 362h1v2h-1zM449 362h1v2h-1zM461 362h1v2h-1zM463 362h1v2h-1zM472 362h1v2h-1zM474 362h1v2h-1zM476 362h1v2h-1zM478 362h1v2h-1zM480 362h1v4h-1zM487 362h1v4h-1zM489 362h1v4h-1zM491 362h1v4h-1zM493 362h1v4h-1zM495 362h1v4h-1zM502 362h1v4h-1zM504 362h1v4h-1zM506 362h1v4h-1zM508 362h1v4h-1zM510 362h1v4h-1zM519 362h1v4h-1zM521 362h1v4h-1zM523 362h1v4h-1zM532 362h1v4h-1zM534 362h1v4h-1zM536 362h1v4h-1zM538 362h1v4h-1zM540 362h1v4h-1zM545 362h1v4h-1zM452 360h6v4h-6z"/>
<path fill="#000" d="M344 373h223v12h-223z"/>
<path fill="#fff" d="M345 374h6v2h-6zM345 377h6v3h-6zM345 381h6v3h-6zM561 374h5v2h-5zM561 377h5v3h-5zM561 381h5v3h-5zM354 374h9v1h-9zM548 374h9v1h-9zM354 376h7v4h-7zM354 380h1v1h-1zM354 381h6v2h-6zM362 375h1v9h-1zM360 383h191v1h-191zM548 375h1v9h-1zM550 376h7v4h-7zM556 380h1v1h-1zM551 381h6v2h-6zM365 376h1v3h-1zM367 376h1v3h-1zM376 376h1v3h-1zM378 376h1v3h-1zM378 374h1v1h-1zM380 376h1v3h-1zM380 374h1v1h-1zM382 376h1v3h-1zM389 376h1v3h-1zM391 376h1v3h-1zM391 374h1v1h-1zM393 376h1v3h-1zM393 374h1v1h-1zM395 376h1v3h-1zM395 374h1v1h-1zM397 376h1v3h-1zM397 374h1v1h-1zM399 376h1v3h-1zM404 376h1v3h-1zM406 376h1v3h-1zM406 374h1v1h-1zM408 376h1v3h-1zM408 374h1v1h-1zM410 376h1v3h-1zM423 376h1v3h-1zM425 376h1v3h-1zM436 376h1v2h-1zM438 376h1v2h-1zM438 374h1v1h-1zM440 376h1v2h-1zM440 374h1v1h-1zM442 376h1v2h-1zM447 376h1v2h-1zM449 376h1v2h-1zM461 376h1v2h-1zM463 376h1v2h-1zM472 376h1v2h-1zM474 376h1v2h-1zM474 374h1v1h-1zM476 376h1v2h-1zM476 374h1v1h-1zM478 376h1v2h-1zM480 376h1v3h-1zM487 376h1v3h-1zM489 376h1v3h-1zM489 374h1v1h-1zM491 376h1v3h-1zM491 374h1v1h-1zM493 376h1v3h-1zM493 374h1v1h-1zM495 376h1v3h-1zM502 376h1v3h-1zM504 376h1v3h-1zM504 374h1v1h-1zM506 376h1v3h-1zM506 374h1v1h-1zM508 376h1v3h-1zM508 374h1v1h-1zM510 376h1v3h-1zM519 376h1v3h-1zM521 376h1v3h-1zM521 374h1v1h-1zM523 376h1v3h-1zM532 376h1v3h-1zM534 376h1v3h-1zM534 374h1v1h-1zM536 376h1v3h-1zM536 374h1v1h-1zM538 376h1v3h-1zM538 374h1v1h-1zM540 376h1v3h-1zM545 376h1v3h-1zM452 380h6v4h-6z"/>
<path fill="#000" d="M344 386h223v12h-223z"/>
<path fill="#fff" d="M345 387h6v2h-6zM345 390h6v3h-6zM345 394h6v3h-6zM561 387h5v2h-5zM561 390h5v3h-5zM561 394h5v3h-5zM354 387h9v1h-9zM548 387h9v1h-9zM354 389h7v4h-7zM354 393h1v1h-1zM354 394h6v2h-6zM362 388h1v9h-1zM360 396h191v1h-191zM548 388h1v9h-1zM550 389h7v4h-7zM556 393h1v1h-1zM551 394h6v2h-6zM365 389h1v3h-1zM367 389h1v3h-1zM376 389h1v3h-1zM378 389h1v3h-1zM378 387h1v1h-1zM380 389h1v3h-1zM380 387h1v1h-1zM382 389h1v3h-1zM389 389h1v3h-1zM391 389h1v3h-1zM391 387h1v1h-1zM393 389h1v3h-1zM393 387h1v1h-1zM395 389h1v3h-1zM395 387h1v1h-1zM397 389h1v3h-1zM397 387h1v1h-1zM399 389h1v3h-1zM404 389h1v3h-1zM406 389h1v3h-1zM406 387h1v1h-1zM408 389h1v3h-1zM408 387h1v1h-1zM410 389h1v3h-1zM423 389h1v3h-1zM425 389h1v3h-1zM436 389h1v2h-1zM438 389h1v2h-1zM438 387h1v1h-1zM440 389h1v2h-1zM440 387h1v1h-1zM442 389h1v2h-1zM447 389h1v2h-1zM449 389h1v2h-1zM461 389h1v2h-1zM463 389h1v2h-1zM472 389h1v2h-1zM474 389h1v2h-1zM474 387h1v1h-1zM476 389h1v2h-1zM476 387h1v1h-1zM478 389h1v2h-1zM480 389h1v3h-1zM487 389h1v3h-1zM489 389h1v3h-1zM489 387h1v1h-1zM491 389h1v3h-1zM491 387h1v1h-1zM493 389h1v3h-1zM493 387h1v1h-1zM495 389h1v3h-1zM502 389h1v3h-1zM504 389h1v3h-1zM504 387h1v1h-1zM506 389h1v3h-1zM506 387h1v1h-1zM508 389h1v3h-1zM508 387h1v1h-1zM510 389h1v3h-1zM519 389h1v3h-1zM521 389h1v3h-1zM521 387h1v1h-1zM523 389h1v3h-1zM532 389h1v3h-1zM534 389h1v3h-1zM534 387h1v1h-1zM536 389h1v3h-1zM536 387h1v1h-1zM538 389h1v3h-1zM538 387h1v1h-1zM540 389h1v3h-1zM545 389h1v3h-1zM452 387h6v4h-6z"/>
<path fill="#000" d="M344 399h223v13h-223z"/>
<path fill="#fff" d="M345 400h6v2h-6zM345 403h6v3h-6zM345 407h6v4h-6zM561 400h5v2h-5zM561 403h5v3h-5zM561 407h5v4h-5zM354 400h203v1h-203zM354 402h7v4h-7zM354 406h1v1h-1zM354 407h6v3h-6zM362 401h1v10h-1zM360 410h191v1h-191zM548 401h1v10h-1zM550 402h7v4h-7zM556 406h1v1h-1zM551 407h6v3h-6zM365 402h1v4h-1zM367 402h1v4h-1zM376 402h1v4h-1zM378 402h1v4h-1zM380 402h1v4h-1zM382 402h1v4h-1zM389 402h1v4h-1zM391 402h1v4h-1zM393 402h1v4h-1zM395 402h1v4h-1zM397 402h1v4h-1zM399 402h1v4h-1zM404 402h1v4h-1zM406 402h1v4h-1zM408 402h1v4h-1zM410 402h1v4h-1zM423 402h1v4h-1zM425 402h1v4h-1zM436 402h1v2h-1zM438 402h1v2h-1zM440 402h1v2h-1zM442 402h1v2h-1zM447 402h1v2h-1zM449 402h1v2h-1zM461 402h1v2h-1zM463 402h1v2h-1zM472 402h1v2h-1zM474 402h1v2h-1zM476 402h1v2h-1zM478 402h1v2h-1zM480 402h1v4h-1zM487 402h1v4h-1zM489 402h1v4h-1zM491 402h1v4h-1zM493 402h1v4h-1zM495 402h1v4h-1zM502 402h1v4h-1zM504 402h1v4h-1zM506 402h1v4h-1zM508 402h1v4h-1zM510 402h1v4h-1zM519 402h1v4h-1zM521 402h1v4h-1zM523 402h1v4h-1zM532 402h1v4h-1zM534 402h1v4h-1zM536 402h1v4h-1zM538 402h1v4h-1zM540 402h1v4h-1zM545 402h1v4h-1zM452 407h6v4h-6z"/>
<path fill="#000" d="M431.8 339h47.9v13h-47.9z"/>
<path fill="#fff" d="M434.4 340.1h43v10.7h-43z"/>
<path fill="#000" d="M476.4 349.8h1v1h-1z"/>
<text x="455.5" y="348.7" letter-spacing="0.4" >BANK 0</text>
<path fill="#000" d="M431.8 366h47.9v13h-47.9z"/>
<path fill="#fff" d="M434.4 367.1h43v10.7h-43z"/>
<path fill="#000" d="M476.4 376.8h1v1h-1z"/>
<text x="455.5" y="375.7" letter-spacing="0.4" >BANK 1</text>
<path fill="#000" d="M431.8 393h47.9v13h-47.9z"/>
<path fill="#fff" d="M434.4 394.1h43v10.7h-43z"/>
<path fill="#000" d="M476.4 403.8h1v1h-1z"/>
<text x="455.5" y="402.7" letter-spacing="0.4" >BANK 2</text>
<path fill="#000" d="M572 327h20.2v89.8h-20.2z"/>
<path fill="#fff" d="M573 328h18.2v87.8h-18.2z"/>
<path fill="#000" d="M577.2 327h2.4v2h-2.4zM577.2 414.8h2.4v2h-2.4zM575 332h6v6h-6z"/>
<path fill="#fff" d="M576 333h4v4h-4z"/>
<path fill="#000" d="M575 339h6v6h-6z"/>
<path fill="#fff" d="M576 340h4v4h-4z"/>
<path fill="#000" d="M575 347h6v6h-6z"/>
<path fill="#fff" d="M576 348h4v4h-4z"/>
<path fill="#000" d="M575 354h6v6h-6z"/>
<path fill="#fff" d="M576 355h4v4h-4z"/>
<path fill="#000" d="M575 362h6v6h-6z"/>
<path fill="#fff" d="M576 363h4v4h-4z"/>
<path fill="#000" d="M575 369h6v6h-6z"/>
<path fill="#fff" d="M576 370h4v4h-4z"/>
<path fill="#000" d="M575 377h6v6h-6z"/>
<path fill="#fff" d="M576 378h4v4h-4z"/>
<path fill="#000" d="M575 384h6v6h-6z"/>
<path fill="#fff" d="M576 385h4v4h-4z"/>
<path fill="#000" d="M575 391h6v6h-6z"/>
<path fill="#fff" d="M576 392h4v4h-4z"/>
<path fill="#000" d="M575 399h6v6h-6z"/>
<path fill="#fff" d="M576 400h4v4h-4z"/>
<path fill="#000" d="M575 406h6v6h-6z"/>
<path fill="#fff" d="M576 407h4v4h-4z"/>
<path fill="#000" d="M582 327.9h2v5.9h-2z"/>
<polygon points="586.7,329.2 588.8,329.2 588.8,330.3 590.1,330.3 590.1,332.8 588.8,332.8 588.8,334 586.7,334 586.7,332.8 585.9,332.8 585.9,330.3 586.7,330.3" fill="#000" class="g"/>
<path fill="#000" d="M582 335.23h2v5.9h-2z"/>
<polygon points="586.7,336.53 588.8,336.53 588.8,337.63 590.1,337.63 590.1,340.13 588.8,340.13 588.8,341.33 586.7,341.33 586.7,340.13 585.9,340.13 585.9,337.63 586.7,337.63" fill="#000" class="g"/>
<path fill="#000" d="M582 342.56h2v5.9h-2z"/>
<polygon points="586.7,343.86 588.8,343.86 588.8,344.96 590.1,344.96 590.1,347.46 588.8,347.46 588.8,348.66 586.7,348.66 586.7,347.46 585.9,347.46 585.9,344.96 586.7,344.96" fill="#000" class="g"/>
<path fill="#000" d="M582 349.89h2v5.9h-2z"/>
<polygon points="586.7,351.19 588.8,351.19 588.8,352.29 590.1,352.29 590.1,354.79 588.8,354.79 588.8,355.99 586.7,355.99 586.7,354.79 585.9,354.79 585.9,352.29 586.7,352.29" fill="#000" class="g"/>
<path fill="#000" d="M582 357.22h2v5.9h-2z"/>
<polygon points="586.7,358.52 588.8,358.52 588.8,359.62 590.1,359.62 590.1,362.12 588.8,362.12 588.8,363.32 586.7,363.32 586.7,362.12 585.9,362.12 585.9,359.62 586.7,359.62" fill="#000" class="g"/>
<path fill="#000" d="M582 364.55h2v5.9h-2z"/>
<polygon points="586.7,365.85 588.8,365.85 588.8,366.95 590.1,366.95 590.1,369.45 588.8,369.45 588.8,370.65 586.7,370.65 586.7,369.45 585.9,369.45 585.9,366.95 586.7,366.95" fill="#000" class="g"/>
<path fill="#000" d="M582 371.88h2v5.9h-2z"/>
<polygon points="586.7,373.18 588.8,373.18 588.8,374.28 590.1,374.28 590.1,376.78 588.8,376.78 588.8,377.98 586.7,377.98 586.7,376.78 585.9,376.78 585.9,374.28 586.7,374.28" fill="#000" class="g"/>
<path fill="#000" d="M582 379.21h2v5.9h-2z"/>
<polygon points="586.7,380.51 588.8,380.51 588.8,381.61 590.1,381.61 590.1,384.11 588.8,384.11 588.8,385.31 586.7,385.31 586.7,384.11 585.9,384.11 585.9,381.61 586.7,381.61" fill="#000" class="g"/>
<path fill="#000" d="M582 386.54h2v5.9h-2z"/>
<polygon points="586.7,387.84 588.8,387.84 588.8,388.94 590.1,388.94 590.1,391.44 588.8,391.44 588.8,392.64 586.7,392.64 586.7,391.44 585.9,391.44 585.9,388.94 586.7,388.94" fill="#000" class="g"/>
<path fill="#000" d="M582 393.87h2v5.9h-2z"/>
<polygon points="586.7,395.17 588.8,395.17 588.8,396.27 590.1,396.27 590.1,398.77 588.8,398.77 588.8,399.97 586.7,399.97 586.7,398.77 585.9,398.77 585.9,396.27 586.7,396.27" fill="#000" class="g"/>
<path fill="#000" d="M582 401.2h2v5.9h-2z"/>
<polygon points="586.7,402.5 588.8,402.5 588.8,403.6 590.1,403.6 590.1,406.1 588.8,406.1 588.8,407.3 586.7,407.3 586.7,406.1 585.9,406.1 585.9,403.6 586.7,403.6" fill="#000" class="g"/>
<path fill="#000" d="M582 408.53h2v5.9h-2z"/>
<polygon points="586.7,409.83 588.8,409.83 588.8,410.93 590.1,410.93 590.1,413.43 588.8,413.43 588.8,414.63 586.7,414.63 586.7,413.43 585.9,413.43 585.9,410.93 586.7,410.93" fill="#000" class="g"/>
<path fill="#000" d="M585 328h0.8v87.8h-0.8z"/>
<polygon points="625,355 623,355 623,356.9 620.1,356.9 620.1,360 601.3,360 601.3,362.6 598.8,362.6 598.8,384.8 601,384.8 601,389.6 620,389.6 620,393.6 622.6,393.6 622.6,395.8 625,395.8" fill="#000" />
<path fill="#000" d="M596.3 366.8h3.3v7h-3.3z"/>
<path fill="#fff" d="M597.2 367.8h1.6v5h-1.6z"/>
<path fill="#000" d="M596.3 376h3.3v7.6h-3.3z"/>
<path fill="#fff" d="M597.2 377h1.6v5.6h-1.6z"/>
<line x1="131" y1="14.5" x2="138" y2="21.5" stroke="#000" stroke-width="3" class="g"/>
<line x1="122" y1="59.5" x2="130" y2="67.5" stroke="#000" stroke-width="3" class="g"/>
<line x1="86.5" y1="66" x2="94" y2="74.5" stroke="#000" stroke-width="3" class="g"/>
<line x1="156" y1="96" x2="163.5" y2="104.5" stroke="#000" stroke-width="3" class="g"/>
<line x1="177" y1="96" x2="170.5" y2="104.5" stroke="#000" stroke-width="3" class="g"/>
<line x1="209.5" y1="102" x2="202.8" y2="108.5" stroke="#000" stroke-width="3" class="g"/>
<line x1="345.5" y1="293" x2="338" y2="302" stroke="#000" stroke-width="3" class="g"/>
<line x1="476.5" y1="293" x2="469.5" y2="302" stroke="#000" stroke-width="3" class="g"/>
<line x1="609.5" y1="299.5" x2="601.5" y2="306.8" stroke="#000" stroke-width="3" class="g"/>
<polygon points="86.4,23.7 91.9,25.9 99.5,25.9 99.5,29.5 91.9,29.5 86.4,31.7" fill="#000" class="g"/>
<polygon points="144.5,40.3 140.1,43.8 133.5,43.8 133.5,47.8 140.1,47.8 144.5,51.3" fill="#000" class="g"/>
<path fill="#000" d="M130.5 44.8h3.5v2h-3.5z"/>
<polygon points="334.5,77.3 330.1,79.5 323,79.5 323,83.1 330.1,83.1 334.5,85.3" fill="#000" class="g"/>
<polygon points="397,258.3 401.4,260.5 409.5,260.5 409.5,264.1 401.4,264.1 397,266.3" fill="#000" class="g"/>
<polygon points="331.7,279.6 336.1,281.8 344.5,281.8 344.5,285.4 336.1,285.4 331.7,287.6" fill="#000" class="g"/>
<polygon points="475,279.3 479.4,281.5 487.5,281.5 487.5,285.1 479.4,285.1 475,287.3" fill="#000" class="g"/>
<polygon points="630.6,305.2 626.2,307.7 616.5,307.7 616.5,310.7 626.2,310.7 630.6,313.2" fill="#000" class="g"/>
<polygon points="627.2,334.4 623.2,339 616.9,339 616.9,342.8 623.2,342.8 627.2,347.4" fill="#000" class="g"/>
<path fill="#000" d="M613.5 340h4v1.8h-4z"/>
<polygon points="259.2,333.6 268.7,336.3 272.5,336.3 272.5,338.9 268.7,338.9 259.2,341.6" fill="#000" class="g"/>
<polygon points="295.5,338.5 291.1,340.7 282.5,340.7 282.5,344.3 291.1,344.3 295.5,346.5" fill="#000" class="g"/>
<polygon points="236.5,133.5 238.5,129 238.5,123 239.3,123 239.3,118.5 241.7,118.5 241.7,123 242.5,123 242.5,129 244.5,133.5" fill="#000" class="g"/>
<polygon points="279,133.5 281,129 281,123 281.8,123 281.8,118.5 284.2,118.5 284.2,123 285,123 285,129 287,133.5" fill="#000" class="g"/>
<polygon points="367,175.5 369,171 369,165 369.8,165 369.8,160.5 372.2,160.5 372.2,165 373,165 373,171 375,175.5" fill="#000" class="g"/>
<polygon points="573,285 575.1,291.5 575.1,300.5 575.3,300.5 575.3,300.5 577.7,300.5 577.7,300.5 577.9,300.5 577.9,291.5 580,285" fill="#000" class="g"/>
<rect x="105.1" y="1.9" width="27.7" height="15" rx="2.6" class="g"/>
<rect x="107" y="3.8" width="23.7" height="11.1" rx="0.9" fill="#fff" class="g"/>
<text x="118.85" y="13.28" letter-spacing="0.6" >JFP</text>
<rect x="59" y="20" width="28.8" height="14.9" rx="2.6" class="g"/>
<rect x="60.9" y="21.9" width="24.8" height="11" rx="0.9" fill="#fff" class="g"/>
<text x="73.3" y="31.33" >JG2</text>
<rect x="143" y="38.2" width="28" height="15.4" rx="2.6" class="g"/>
<rect x="144.9" y="40.1" width="24" height="11.5" rx="0.9" fill="#fff" class="g"/>
<text x="156.9" y="49.78" >CN9</text>
<rect x="127.2" y="66" width="27.9" height="14.4" rx="2.6" class="g"/>
<rect x="129.1" y="67.9" width="23.9" height="10.5" rx="0.9" fill="#fff" class="g"/>
<text x="141.05" y="77.08" >JP1</text>
<rect x="92.3" y="72.7" width="33.5" height="14.3" rx="2.6" class="g"/>
<rect x="94.2" y="74.6" width="29.5" height="10.4" rx="0.9" fill="#fff" class="g"/>
<text x="109.25" y="83.73" >JP<tspan dx="1.6">20</tspan></text>
<rect x="130.8" y="84.2" width="27.2" height="13" rx="2.6" class="g"/>
<rect x="132.7" y="86.1" width="23.2" height="9.1" rx="0.9" fill="#fff" class="g"/>
<text x="144.3" y="94.58" >JS1</text>
<rect x="175.3" y="84" width="27.9" height="14.5" rx="2.6" class="g"/>
<rect x="177.2" y="85.9" width="23.9" height="10.6" rx="0.9" fill="#fff" class="g"/>
<text x="189.15" y="95.13" >JS2</text>
<rect x="206.8" y="89.5" width="27.2" height="14.7" rx="2.6" class="g"/>
<rect x="208.7" y="91.4" width="23.2" height="10.8" rx="0.9" fill="#fff" class="g"/>
<text x="220.6" y="100.73" >JG3</text>
<rect x="230.1" y="131.6" width="21" height="15.2" rx="2.6" class="g"/>
<rect x="232" y="133.5" width="17" height="11.3" rx="0.9" fill="#fff" class="g"/>
<text x="240.5" y="143.08" >JB</text>
<rect x="265.9" y="131.9" width="35.1" height="16.1" rx="2.6" class="g"/>
<rect x="267.8" y="133.8" width="31.1" height="12.2" rx="0.9" fill="#fff" class="g"/>
<text x="283.35" y="143.83" letter-spacing="0.3" >JP17</text>
<rect x="333" y="74" width="34" height="14.6" rx="2.6" class="g"/>
<rect x="334.9" y="75.9" width="30" height="10.7" rx="0.9" fill="#fff" class="g"/>
<text x="349.2" y="85.18" >JP16</text>
<rect x="353.3" y="174.1" width="34.9" height="14.9" rx="2.6" class="g"/>
<rect x="355.2" y="176" width="30.9" height="11" rx="0.9" fill="#fff" class="g"/>
<text x="370.65" y="185.43" letter-spacing="0.2" >JP14</text>
<rect x="78" y="133" width="29.1" height="15.9" rx="2.6" class="g"/>
<rect x="79.9" y="134.9" width="25.1" height="12" rx="0.9" fill="#fff" class="g"/>
<text x="92.45" y="144.83" letter-spacing="0.3" >CPU</text>
<rect x="171" y="152" width="26" height="14.8" rx="2.6" class="g"/>
<rect x="172.9" y="153.9" width="22" height="10.9" rx="0.9" fill="#fff" class="g"/>
<text x="183.9" y="163.28" >TAG</text>
<path fill="#fff" d="M70 323h36.3v10.5h-36.3z"/>
<text x="88.2" y="332" font-size="10" >CACHE</text>
<rect x="369.1" y="254" width="28.9" height="15.8" rx="2.6" class="g"/>
<rect x="371" y="255.9" width="24.9" height="11.9" rx="0.9" fill="#fff" class="g"/>
<text x="383.05" y="265.78" >CN8</text>
<rect x="304.5" y="276" width="28.4" height="14.4" rx="2.6" class="g"/>
<rect x="306.4" y="277.9" width="24.4" height="10.5" rx="0.9" fill="#fff" class="g"/>
<text x="318.6" y="287.08" >CN6</text>
<rect x="312.2" y="300.4" width="27.5" height="14.3" rx="2.6" class="g"/>
<rect x="314.1" y="302.3" width="23.5" height="10.4" rx="0.9" fill="#fff" class="g"/>
<text x="325.85" y="311.43" >CN5</text>
<rect x="447.3" y="276.1" width="28.5" height="14.4" rx="2.6" class="g"/>
<rect x="449.2" y="278" width="24.5" height="10.5" rx="0.9" fill="#fff" class="g"/>
<text x="461.45" y="287.18" >CN4</text>
<rect x="443" y="301" width="28.7" height="14.7" rx="2.6" class="g"/>
<rect x="444.9" y="302.9" width="24.7" height="10.8" rx="0.9" fill="#fff" class="g"/>
<text x="457.25" y="312.23" >CN3</text>
<rect x="563" y="272" width="28" height="14.7" rx="2.6" class="g"/>
<rect x="564.9" y="273.9" width="24" height="10.8" rx="0.9" fill="#fff" class="g"/>
<text x="577.7" y="283.23" >CN2</text>
<rect x="607.3" y="286.2" width="27.6" height="15.1" rx="2.6" class="g"/>
<rect x="609.2" y="288.1" width="23.6" height="11.2" rx="0.9" fill="#fff" class="g"/>
<text x="621" y="297.63" >CN1</text>
<path fill="#000" d="M626.2 301h3.1v6.2h-3.1z"/>
<path fill="#fff" d="M627.2 302h1.2v5.2h-1.2z"/>
<rect x="628.6" y="301.9" width="29.3" height="15" rx="2.6" class="g"/>
<rect x="630.5" y="303.8" width="25.3" height="11.1" rx="0.9" fill="#fff" class="g"/>
<text x="642.65" y="313.28" >JG1</text>
<rect x="625.2" y="333" width="28.7" height="15.9" rx="2.6" class="g"/>
<rect x="627.1" y="334.9" width="24.7" height="12" rx="0.9" fill="#fff" class="g"/>
<text x="639.45" y="344.83" >CN7</text>
<rect x="231" y="330.3" width="29.2" height="15" rx="2.6" class="g"/>
<rect x="232.9" y="332.2" width="25.2" height="11.1" rx="0.9" fill="#fff" class="g"/>
<text x="245.5" y="341.68" >JK1</text>
<rect x="294.3" y="335" width="28.7" height="14.8" rx="2.6" class="g"/>
<rect x="296.2" y="336.9" width="24.7" height="10.9" rx="0.9" fill="#fff" class="g"/>
<text x="308.55" y="346.28" >JK2</text>
<polygon points="85.2,25.4 90.9,27.7 85.2,30" fill="#fff" class="g"/>
<polygon points="145.7,43.4 141.1,45.7 145.7,48" fill="#fff" class="g"/>
<polygon points="335.7,79 331.1,81.3 335.7,83.6" fill="#fff" class="g"/>
<polygon points="395.8,260 400.4,262.3 395.8,264.6" fill="#fff" class="g"/>
<polygon points="330.5,281.3 335.1,283.6 330.5,285.9" fill="#fff" class="g"/>
<polygon points="473.8,281 478.4,283.3 473.8,285.6" fill="#fff" class="g"/>
<polygon points="632.2,306.9 625,309.2 632.2,311.5" fill="#fff" class="g"/>
<polygon points="629,338.1 624.8,340.9 629,343.7" fill="#fff" class="g"/>
<polygon points="258,335.3 267.7,337.6 258,339.9" fill="#fff" class="g"/>
<polygon points="296.7,340.2 292.1,342.5 296.7,344.8" fill="#fff" class="g"/>
<polygon points="238.2,134.7 240.5,129.5 242.8,134.7" fill="#fff" class="g"/>
<polygon points="280.7,134.7 283,129.5 285.3,134.7" fill="#fff" class="g"/>
<polygon points="368.7,176.7 371,171.5 373.3,176.7" fill="#fff" class="g"/>
<polygon points="574.5,284 576.8,290.2 579.1,284" fill="#fff" class="g"/>
<rect x="81.9" y="255.6" width="13.9" height="61.9" rx="2.5" class="g"/>
<rect x="83.5" y="257" width="10.6" height="59.1" rx="1.2" fill="#fff" class="g"/>
<text x="88.65" y="267.19" >B</text>
<text x="88.65" y="278.77" >A</text>
<text x="88.65" y="290.35" >N</text>
<text x="88.65" y="301.93" >K</text>
<text x="88.65" y="313.51" >1</text>
<rect x="81.9" y="338.6" width="13.9" height="60.9" rx="2.5" class="g"/>
<rect x="83.5" y="340" width="10.6" height="58.1" rx="1.2" fill="#fff" class="g"/>
<text x="88.65" y="350.09" >B</text>
<text x="88.65" y="361.47" >A</text>
<text x="88.65" y="372.85" >N</text>
<text x="88.65" y="384.23" >K</text>
<text x="88.65" y="395.61" >0</text>
<text x="494.8" y="47.6" font-size="9.6" text-anchor="start" >35005</text>
</svg>
</body></html>
